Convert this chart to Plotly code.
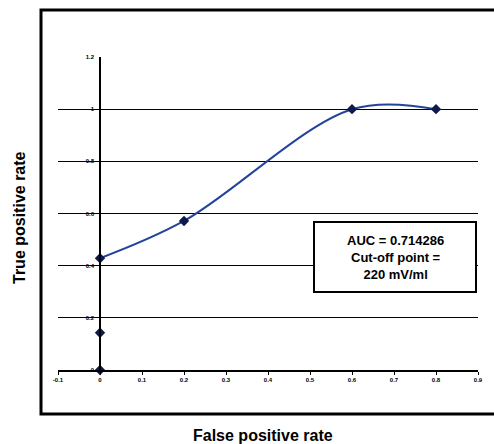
import plotly.graph_objects as go

fpr = [0, 0, 0, 0.2, 0.6, 0.8]
tpr = [0, 0.142857, 0.428571, 0.571429, 1.0, 1.0]
x_ticks = [-0.1, 0, 0.1, 0.2, 0.3, 0.4, 0.5, 0.6, 0.7, 0.8, 0.9]
y_ticks = [0, 0.2, 0.4, 0.6, 0.8, 1.0, 1.2]
box_text = "AUC = 0.714286<br>Cut-off point =<br>220 mV/ml"

W, H = 494, 444
L, R, T, B = 58, 16, 57, 74

LINE = "#23449a"
MARK = "#0d1a4a"

fig = go.Figure()
# straight vertical part at x = 0
fig.add_trace(go.Scatter(
    x=fpr[:3], y=tpr[:3], mode="lines",
    line=dict(color=LINE, width=2),
    showlegend=False, cliponaxis=False,
))
# smoothed remainder
fig.add_trace(go.Scatter(
    x=fpr[2:], y=tpr[2:], mode="lines",
    line=dict(color=LINE, width=2, shape="spline", smoothing=1.0),
    showlegend=False, cliponaxis=False,
))
fig.add_trace(go.Scatter(
    x=fpr, y=tpr, mode="markers",
    marker=dict(symbol="diamond", size=8, color=MARK),
    showlegend=False, cliponaxis=False,
))

tickfont = dict(family="Liberation Sans", size=6, color="black", weight="bold")
fig.update_layout(
    width=W, height=H,
    margin=dict(l=L, r=R, t=T, b=B),
    paper_bgcolor="white", plot_bgcolor="white",
    xaxis=dict(
        range=[-0.1, 0.9], tickvals=x_ticks,
        ticktext=[("%g" % v) for v in x_ticks],
        showgrid=False, zeroline=False,
        showline=True, linecolor="black", linewidth=1.5,
        ticks="outside", ticklen=3, tickcolor="black", tickwidth=1,
        tickfont=tickfont,
    ),
    yaxis=dict(
        range=[0, 1.2], tickvals=y_ticks,
        ticktext=[("%g" % v) for v in y_ticks],
        anchor="free", position=0.1,
        showgrid=True, gridcolor="black", gridwidth=1.2,
        zeroline=False,
        showline=True, linecolor="black", linewidth=1.5,
        ticks="", tickfont=tickfont, ticklabelstandoff=4,
    ),
    font=dict(family="Liberation Sans"),
)

pw = W - L - R
ph = H - T - B
def px_x(p):
    return (p - L) / pw
def px_y(p):
    return (H - B - p) / ph

# outer frame
fig.add_shape(type="rect", xref="paper", yref="paper",
              x0=px_x(41), x1=px_x(497), y0=px_y(414), y1=px_y(10),
              line=dict(color="black", width=3), layer="above")

# text box
fig.add_shape(type="rect", xref="paper", yref="paper",
              x0=px_x(314), x1=px_x(476), y0=px_y(292), y1=px_y(222),
              line=dict(color="black", width=2), fillcolor="white", layer="above")
fig.add_annotation(xref="paper", yref="paper", x=px_x(395), y=px_y(257),
                   text=box_text, showarrow=False,
                   font=dict(family="Liberation Sans", size=13, color="black", weight="bold"),
                   align="center", xanchor="center", yanchor="middle")

# axis titles
fig.add_annotation(xref="paper", yref="paper", x=px_x(263), y=px_y(435),
                   text="False positive rate", showarrow=False,
                   font=dict(family="Liberation Sans", size=16, color="black", weight="bold"),
                   xanchor="center", yanchor="middle")
fig.add_annotation(xref="paper", yref="paper", x=px_x(19), y=px_y(218),
                   text="True positive rate", showarrow=False, textangle=-90,
                   font=dict(family="Liberation Sans", size=16, color="black", weight="bold"),
                   xanchor="center", yanchor="middle")

fig.write_html("out.html")
